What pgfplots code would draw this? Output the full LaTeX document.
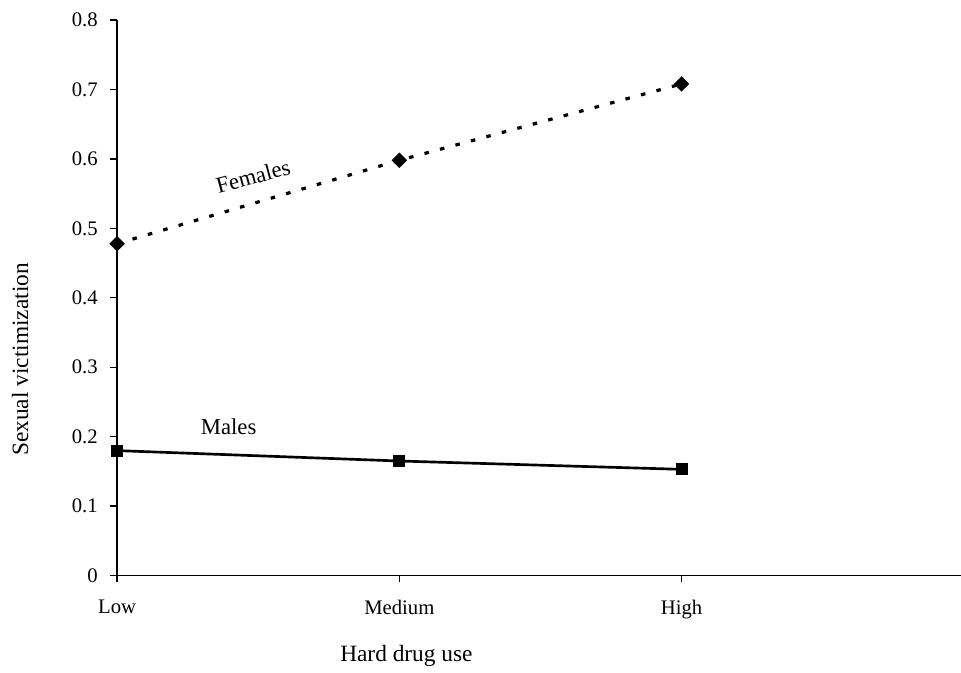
\documentclass[border=0pt]{standalone}
\usepackage{pgfplots}
\pgfplotsset{compat=1.18}
\usepackage{fontspec}
\setmainfont{Liberation Serif}

\begin{document}
\begin{tikzpicture}
\useasboundingbox (-87.75pt,-72.75pt) rectangle (632.25pt,431.25pt);
\begin{axis}[
  at={(0,0)}, anchor=south west,
  scale only axis,
  width=632.25pt, height=416.25pt,
  xmin=0, xmax=2.99,
  ymin=0, ymax=0.8,
  axis x line=bottom, axis y line=left,
  axis line style={-, line width=1.2pt},
  tick style={line width=1pt, black},
  tick align=outside,
  major tick length=5pt,
  xtick={0,1,2},
  xticklabels={Low,Medium,High},
  ytick={0,0.1,...,0.8},
  yticklabel style={/pgf/number format/fixed, /pgf/number format/precision=1},
  /pgf/number format/assume math mode=true,
  tick label style={font=\fontsize{15.5}{18}\selectfont},
  label style={font=\fontsize{17.5}{21}\selectfont},
  xticklabel style={yshift=-10pt},
  yticklabel style={xshift=-6pt},
  xlabel={Hard drug use},
  xlabel style={at={(axis cs:1.025,0)}, anchor=center, yshift=-60pt},
  ylabel={Sexual victimization},
  ylabel style={at={(rel axis cs:-0.115,0.389)}, anchor=center},
  clip=false,
]
\addplot[black, line width=2.4pt, dash pattern=on 3.4pt off 8.6pt,
  mark=square*, mark size=2.9pt, mark options={solid, rotate=45}]
  coordinates {(0,0.478) (1,0.598) (2,0.708)};
\addplot[black, line width=2pt,
  mark=square*, mark size=3.5pt, mark options={solid}]
  coordinates {(0,0.180) (1,0.165) (2,0.153)};
\node[rotate=15, font=\fontsize{17}{20}\selectfont] at (axis cs:0.482,0.575) {Females};
\node[font=\fontsize{17}{20}\selectfont] at (axis cs:0.395,0.214) {Males};
\end{axis}
\end{tikzpicture}
\end{document}
